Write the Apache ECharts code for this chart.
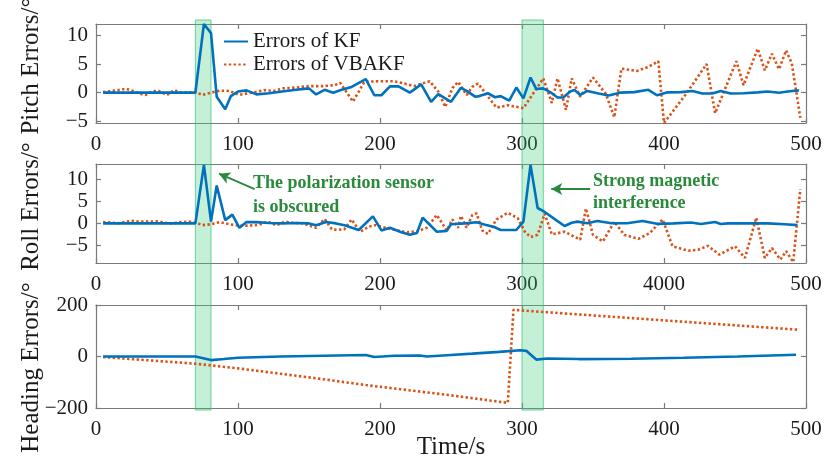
<!DOCTYPE html>
<html>
<head>
<meta charset="utf-8">
<script src="https://cdn.jsdelivr.net/npm/echarts@6/dist/echarts.min.js"></script>
<style>
  html, body { margin: 0; padding: 0; background: #fff; }
  #chart { width: 824px; height: 465px; }
</style>
</head>
<body>
<div id="chart"></div>
<script>
// ---- data ----
const xTicks = [0, 100, 200, 300, 400, 500]
const xTickLabels = ['0', '100', '200', '300', '400', '500']
const xTickLabelsMid = ['0', '100', '200', '300', '4000', '500'] // typo kept from the figure
const pitchTicks = [-5, 0, 5, 10]
const rollTicks = [-5, 0, 5, 10]
const headingTicks = [-200, 0, 200]

const bands = [[70, 81], [300, 315]]

const pitchKfT = [5, 10, 20, 30, 40, 50, 60, 70, 76, 81, 85, 91, 95, 100, 106, 113, 122, 131, 141, 150, 155, 161, 167, 173, 180, 190, 196, 201, 207, 213, 221, 229, 236, 241, 250, 257, 261, 267, 270, 276, 281, 285, 291, 296, 301, 306, 310, 315, 321, 325, 329, 334, 337, 341, 346, 354, 361, 369, 379, 389, 395, 402, 412, 420, 427, 434, 440, 447, 456, 466, 473, 481, 487, 495]
const pitchKf = [0, 0, 0, 0, 0, 0, 0, 0, 12, 10.4, -0.7, -2.9, -0.6, 0.2, 0.4, -0.3, -0.1, 0.2, 0.5, 0.75, -0.3, 0.5, 0, 0.5, 1.0, 2.35, -0.45, -0.45, 1.1, 1.1, 0, 1.45, -1.6, -0.25, -1.6, 0.85, 0.3, -0.7, -0.6, -0.1, -0.8, -0.6, -1.4, 0.9, -1.0, 2.65, 0.65, 0.75, -0.1, -0.85, -0.85, 0.2, 0.45, -0.4, 0.3, -0.15, -0.5, 0, 0.1, 0.5, -0.45, 0.05, 0.1, 0.3, -0.15, -0.15, 0.3, -0.15, -0.1, 0.05, 0.2, 0, 0.2, 0.4]

const pitchVbT = [5, 11, 17, 21, 26, 31, 35, 40, 44, 50, 55, 60, 66, 71, 75, 81, 87, 94, 101, 107, 113, 119, 125, 132, 141, 150, 160, 168, 172, 181, 189, 200, 210, 217, 224, 235, 241, 246, 251, 255, 261, 265, 269, 282, 290, 301, 315, 321, 325, 331, 335, 341, 350, 359, 365, 370, 381, 389, 396, 400, 415, 430, 436, 451, 456, 466, 471, 476, 481, 486, 490, 496]
const pitchVb = [0.1, 0.3, 0.5, 0.7, 0.3, -0.2, -0.4, 0.3, 0.3, -0.4, 0.45, 0, 0.05, 0, -0.4, 0, 0.35, 0.3, -0.4, -0.1, 0.15, 0.45, 0.3, 0.75, 0.9, 1.15, 1.15, 1.3, 1.7, -1.55, 1.9, 2.0, 2.0, 1.6, 1.15, 2.0, 0.2, -2.5, 0.8, 1.9, -0.4, 1.0, 1.6, -2.6, -2.2, -2.7, 2.5, -1.8, 2.5, -3.0, 2.5, -0.7, 2.65, -0.2, -4.3, 4.2, 3.8, 4.5, 5.5, -5.3, -0.4, 5.0, -3.6, 5.5, 1.3, 7.7, 3.9, 6.8, 4.1, 7.4, 5.1, -4.4]

const rollKfT = [5, 20, 40, 60, 70, 76, 81, 85, 91, 96, 101, 106, 113, 122, 131, 141, 150, 155, 162, 169, 175, 185, 195, 201, 207, 215, 221, 226, 230, 240, 247, 250, 260, 268, 274, 280, 285, 296, 301, 306, 311, 316, 324, 330, 335, 339, 346, 353, 363, 374, 385, 395, 407, 419, 426, 436, 440, 445, 455, 464, 473, 485, 494]
const rollKf = [0, 0, 0, 0, 0, 13.3, 0.4, 8.6, 0.75, 2.0, -1.0, 0.3, 0.3, 0.1, 0, 0.1, 0, -0.4, 0.3, 0, -0.4, -1.5, 1.6, -1.6, -1.0, -2.0, -2.6, -2.2, 1.3, -1.9, -1.7, -0.2, 0, 0.25, -0.3, -0.75, -1.5, -1.5, 0.4, 13.3, 3.5, 2.6, 0.75, -0.6, 0.15, 0.4, 0.05, 0.55, 0.05, 0.05, 0.55, -0.1, 0, 0.2, -0.15, 0.3, -0.15, 0, 0, 0, 0, -0.2, -0.4]

const rollVbT = [5, 10, 15, 20, 25, 31, 38, 44, 49, 54, 60, 66, 71, 75, 81, 87, 94, 101, 108, 115, 121, 127, 133, 139, 146, 150, 155, 161, 166, 170, 175, 180, 186, 192, 197, 204, 212, 219, 226, 233, 240, 247, 251, 255, 257, 261, 265, 268, 272, 276, 282, 290, 297, 302, 306, 311, 316, 321, 330, 341, 345, 350, 357, 365, 372, 382, 390, 399, 406, 417, 424, 431, 439, 450, 457, 465, 471, 476, 482, 486, 491, 496]
const rollVb = [0.3, 0.2, 0, 0.3, 0.6, 0.4, 0.4, 0.5, 0.1, 0, 0.3, 0.4, 0.1, -0.4, -0.2, 0.3, -0.2, -0.5, -0.5, -0.3, 0.4, -0.4, 0.4, 0.1, 0, -0.5, -1.0, 1.0, -1.3, -1.5, -1.3, 0.9, -1.9, -0.75, -0.4, -1.0, -1.6, -2.0, -1.8, -1.0, 1.9, -1.6, 0.9, -1.0, 1.7, -1.0, 1.9, 2.3, -1.6, -2.4, 0.9, 2.4, 1.2, -1.9, -3.1, -2.6, 2.2, -2.5, -1.9, -3.7, 3.4, -2.6, -4.1, 0.4, -2.6, -3.5, -2.2, 0.9, -5.2, -6.2, -6.0, -5.1, -7.1, -5.2, -7.85, 1.3, -7.85, -5.6, -8.2, -6.3, -8.8, 7.8]

const headKfT = [5, 30, 70, 81, 90, 100, 130, 160, 190, 196, 210, 228, 233, 250, 265, 284, 299, 303, 310, 318, 340, 377, 414, 452, 493]
const headKf = [0, 0, 0, -14, -10, -5, 0, 3, 6, -2, 3, 4, 0, 6, 11, 18, 24, 22, -12, -8, -10, -9, -5, 0, 7]

const headVbT = [5, 35, 70, 100, 157, 190, 246, 290, 294, 495]
const headVb = [-2, -14, -28, -46, -86, -111, -148, -180, 181, 104]

// annotation arrows on the roll panel: [from, to] in data units
const arrowCoords = [[[111.7, 7.8], [86.6, 11.3]], [[348, 7.8], [320.6, 7.8]]]

// ---- styles ----
const FONT = '"Liberation Serif", "Times New Roman", serif'
const BOX = '#7a7a7a'
const TXT = '#1a1a1a'
const KF_COLOR = '#0072BD'
const VB_COLOR = '#D95319'
const GREEN = '#2a8a3c'

const zip = (t, v) => t.map((x, i) => [x, v[i]])
const minus = v => String(v).replace('-', '\u2212')

const chart = echarts.init(document.getElementById('chart'))

// namePad shifts each rotated y title along the axis (as in the figure)
const panels = [
  { top: 24, height: 99, min: -5.3, max: 12, yTicks: pitchTicks, name: 'Pitch Errors/°', namePad: [0, 0, 0, 15], xLabels: xTickLabels },
  { top: 164, height: 99, min: -9, max: 13.5, yTicks: rollTicks, name: 'Roll Errors/°', namePad: [0, 0, 0, 14], xLabels: xTickLabelsMid },
  { top: 305, height: 103, min: -200, max: 200, yTicks: headingTicks, name: 'Heading Errors/°', namePad: [0, 22, 0, 0], xLabels: xTickLabels }
]

const grid = []
const xAxis = []
const yAxis = []
panels.forEach((p, i) => {
  grid.push({ left: 96, right: 18, top: p.top, height: p.height, outerBoundsMode: 'none' })
  const line = { show: true, onZero: false, lineStyle: { color: BOX, width: 1.2 } }
  const tick = (vals) => ({ show: true, inside: true, length: 5, customValues: vals, lineStyle: { color: BOX, width: 1.2 } })
  xAxis.push({
    gridIndex: i, type: 'value', min: 0, max: 500, position: 'bottom',
    axisLine: line, axisTick: tick(xTicks), splitLine: { show: false },
    axisLabel: {
      customValues: xTicks, margin: 11, fontSize: 21, fontFamily: FONT, color: TXT,
      formatter: v => p.xLabels[xTicks.indexOf(v)]
    },
    name: i === 2 ? 'Time/s' : '', nameLocation: 'middle', nameGap: 27, nameMoveOverlap: false,
    nameTextStyle: { fontSize: 25, fontFamily: FONT, color: TXT }
  })
  xAxis.push({
    gridIndex: i, type: 'value', min: 0, max: 500, position: 'top',
    axisLine: line, axisTick: tick(xTicks), axisLabel: { show: false }, splitLine: { show: false }
  })
  yAxis.push({
    gridIndex: i, type: 'value', min: p.min, max: p.max, position: 'left',
    axisLine: line, axisTick: tick(p.yTicks), splitLine: { show: false },
    axisLabel: { customValues: p.yTicks, margin: 8, fontSize: 21, fontFamily: FONT, color: TXT, formatter: minus },
    name: p.name, nameLocation: 'middle', nameGap: 52, nameMoveOverlap: false,
    nameTextStyle: { fontSize: 25, fontFamily: FONT, color: TXT, padding: p.namePad }
  })
  yAxis.push({
    gridIndex: i, type: 'value', min: p.min, max: p.max, position: 'right',
    axisLine: line, axisTick: tick(p.yTicks), axisLabel: { show: false }, splitLine: { show: false }
  })
})
// full-height grid used only for the shaded intervals
grid.push({ left: 96, right: 18, top: 20, height: 390, outerBoundsMode: 'none' })
xAxis.push({ gridIndex: 3, type: 'value', min: 0, max: 500, show: false })
yAxis.push({ gridIndex: 3, type: 'value', min: 0, max: 1, show: false })

const kfLine = (i, data, extra) => Object.assign({
  name: 'Errors of KF', type: 'line', xAxisIndex: 2 * i, yAxisIndex: 2 * i,
  data, showSymbol: false, symbol: 'none', z: 3,
  lineStyle: { color: KF_COLOR, width: 2.6 }, itemStyle: { color: KF_COLOR }
}, extra || {})
const vbLine = (i, data) => ({
  name: 'Errors of VBAKF', type: 'line', xAxisIndex: 2 * i, yAxisIndex: 2 * i,
  data, showSymbol: false, symbol: 'none', z: 2,
  lineStyle: { color: VB_COLOR, width: 2.6, type: [2.4, 2.4] }, itemStyle: { color: VB_COLOR }
})

const series = [
  kfLine(0, zip(pitchKfT, pitchKf)),
  vbLine(0, zip(pitchVbT, pitchVb)),
  kfLine(1, zip(rollKfT, rollKf), {
    markLine: {
      silent: true, symbol: ['none', 'arrow'], symbolSize: [9, 11], animation: false,
      label: { show: false },
      lineStyle: { color: GREEN, width: 1.8, type: 'solid' },
      data: arrowCoords.map(a => [{ coord: a[0] }, { coord: a[1] }])
    }
  }),
  vbLine(1, zip(rollVbT, rollVb)),
  kfLine(2, zip(headKfT, headKf)),
  vbLine(2, zip(headVbT, headVb)),
  {
    type: 'line', xAxisIndex: 6, yAxisIndex: 6, data: [], z: 10, silent: true,
    markArea: {
      silent: true,
      itemStyle: { color: 'rgba(60, 205, 125, 0.30)', borderColor: 'rgba(40, 190, 110, 0.65)', borderWidth: 1 },
      data: bands.map(b => [{ xAxis: b[0] }, { xAxis: b[1] }])
    }
  }
]

chart.setOption({
  animation: false,
  grid,
  xAxis,
  yAxis,
  legend: {
    data: ['Errors of KF', 'Errors of VBAKF'],
    orient: 'vertical', left: 223, top: 31, padding: 0,
    itemWidth: 24, itemHeight: 14, itemGap: 2,
    itemStyle: { color: 'rgba(0,0,0,0)', borderColor: 'rgba(0,0,0,0)', borderWidth: 0 },
    textStyle: { fontSize: 21, lineHeight: 20, fontFamily: FONT, color: TXT }
  },
  graphic: [
    {
      type: 'text', left: 253, top: 171, z: 20,
      style: { text: 'The polarization sensor\nis obscured', font: 'bold 18px "Liberation Serif", serif', fill: GREEN, lineHeight: 24 }
    },
    {
      type: 'text', left: 593, top: 170, z: 20,
      style: { text: 'Strong magnetic\ninterference', font: 'bold 18px "Liberation Serif", serif', fill: GREEN, lineHeight: 22 }
    }
  ],
  series
})
</script>
</body>
</html>
